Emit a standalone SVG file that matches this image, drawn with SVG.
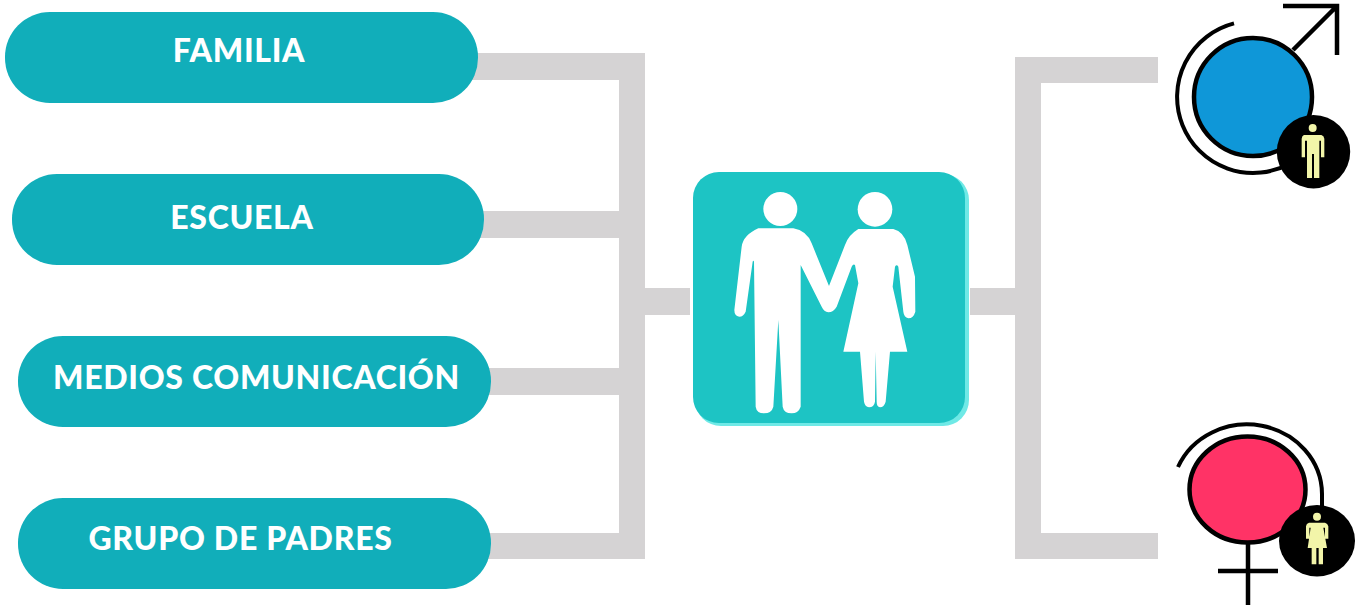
<svg xmlns="http://www.w3.org/2000/svg" width="1356" height="607" viewBox="0 0 1356 607">
<style>
.pill{fill:#11AEBA}
.lbl{font-family:"Lato","Liberation Sans",sans-serif;font-weight:900;font-size:32px;letter-spacing:.7px;fill:#fff;text-anchor:middle}
.bar{fill:#D5D3D4}
.ln{fill:none;stroke:#000;stroke-width:4}
.fig{fill:#F2F5A9}
</style>
<rect width="1356" height="607" fill="#fff"/>
<g id="connectors">
<rect class="bar" x="470" y="53" width="175" height="27"/>
<rect class="bar" x="619" y="53" width="26" height="506"/>
<rect class="bar" x="480" y="211" width="140" height="27"/>
<rect class="bar" x="487" y="368" width="133" height="27"/>
<rect class="bar" x="487" y="533" width="157" height="26"/>
<rect class="bar" x="645" y="288" width="45" height="27"/>
<rect class="bar" x="970" y="288" width="46" height="27"/>
<rect class="bar" x="1015" y="57" width="26" height="502"/>
<rect class="bar" x="1015" y="57" width="143" height="26"/>
<rect class="bar" x="1015" y="533" width="143" height="26"/>
</g>
<g id="familia"><rect class="pill" x="5" y="12" width="473" height="91" rx="45" ry="45"/><text class="lbl" x="239" y="62">FAMILIA</text></g>
<g id="escuela"><rect class="pill" x="12" y="174" width="472" height="91" rx="45" ry="45"/><text class="lbl" x="242" y="229">ESCUELA</text></g>
<g id="medios"><rect class="pill" x="18" y="336" width="473" height="91" rx="45" ry="45"/><text class="lbl" x="256.500" y="389">MEDIOS COMUNICACIÓN</text></g>
<g id="grupo"><rect class="pill" x="18" y="498" width="473" height="91" rx="45" ry="45"/><text class="lbl" x="240.500" y="550">GRUPO DE PADRES</text></g>
<g id="pareja">
<rect x="695" y="174" width="274" height="252" rx="26" fill="#6FE9E6"/>
<rect x="693" y="172" width="272" height="251" rx="26" fill="#1DC4C4"/>
<g transform="translate(680 160) scale(.33333)" fill="#fff">
<circle cx="301" cy="147" r="51"/>
<circle cx="585" cy="148" r="52"/>
<path d="M235,205 L340,205 Q380,212 395,250 L447,378 L495,255 Q505,225 535,207 L640,207 Q672,215 682,255 L705,350 L706,455 Q700,475 685,475 Q672,472 670,455 L655,320 Q650,312 645,320 L638,380 L682,575 L630,575 L617,725 Q612,742 600,742 Q590,740 590,725 L587,575 L585,725 Q582,742 567,742 Q555,740 552,725 L540,575 L490,575 L535,370 L525,315 Q520,310 515,320 L470,440 Q460,457 445,457 Q432,455 425,440 L362,315 L362,740 Q355,760 335,760 Q312,760 308,740 L295,480 L280,740 Q275,760 252,760 Q230,760 227,740 L222,305 Q220,300 218,305 L197,455 Q190,470 178,470 Q163,468 163,450 L185,260 Q190,225 235,205Z"/>
</g>
</g>
<g id="masculino">
<circle cx="1253" cy="97" r="59" fill="#0F97D8" stroke="#000" stroke-width="4.5"/>
<path class="ln" d="M1234,23.4 A76,76 0 1 0 1290,163.400"/>
<path class="ln" style="stroke-width:4.5" d="M1293,50 L1337,6 M1283,6 H1337 V55"/>
<circle cx="1313.500" cy="151.700" r="36.700" fill="#000"/>
<g transform="translate(1160 0) scale(.33333)">
<circle class="fig" cx="458" cy="384" r="12"/>
<path class="fig" d="M432,405 H484 Q492,407 493,416 V472 H483 V422 H478 V534 H462 V462 H456 V534 H441 V422 H435 V472 H425 V416 Q426,407 432,405Z"/>
</g>
</g>
<g id="femenino">
<ellipse cx="1247.500" cy="489.500" rx="58" ry="53" fill="#FF3366" stroke="#000" stroke-width="4.5"/>
<path class="ln" d="M1178,467 A75,70 0 0 1 1322,494 V510"/>
<path class="ln" style="stroke-width:4.5" d="M1248,544 V605 M1218,571 H1278"/>
<ellipse cx="1317" cy="540.700" rx="38" ry="35.700" fill="#000"/>
<g transform="translate(1160 407) scale(.33333)">
<circle class="fig" cx="471" cy="329" r="12"/>
<path class="fig" d="M447,347 H495 Q503,349 505,358 V395 H495 V362 H490 L501,423 H489 V472 H476 V423 H469 V472 H455 V423 H443 L452,362 H448 V395 H438 V358 Q439,349 447,347Z"/>
</g>
</g>
</svg>
